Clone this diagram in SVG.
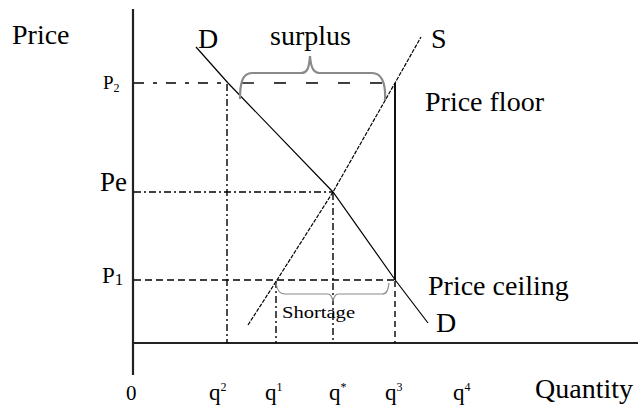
<svg xmlns="http://www.w3.org/2000/svg" width="638" height="406" viewBox="0 0 638 406">
<style>
text{font-family:"Liberation Serif","Times New Roman",serif;fill:#000}
.lbl{font-size:28px}
.axis{stroke:#222;stroke-width:2.2;fill:none}
.curve{stroke:#000;stroke-width:1.2;fill:none}
.s{stroke-dasharray:4 1.3}
.dd{stroke:#000;stroke-width:1.4;fill:none;stroke-dasharray:7 3 2 3}
.dash{stroke:#000;stroke-width:1.4;fill:none;stroke-dasharray:7 4}
.brace{stroke:#8a8a8a;fill:none}
</style>
<rect width="638" height="406" fill="#fff"/>
<g id="axes">
<line class="axis" x1="133" y1="9" x2="133" y2="375"/>
<line class="axis" x1="132" y1="343" x2="638" y2="343"/>
</g>
<g id="guides">
<path class="dash" d="M134,83 H228" style="stroke-dasharray:10 9 4 9"/>
<path class="dash" d="M242,83 H392" style="stroke-dasharray:12 20"/>
<path class="dd" d="M134,192 H333"/>
<path class="dash" d="M134,280 H395"/>
<path class="dd" d="M227,84 V343"/>
<path class="dd" d="M276,281 V343"/>
<path class="dd" d="M333,193 V343"/>
<line x1="395" y1="83" x2="395" y2="280" stroke="#111" stroke-width="2"/>
<path class="dash" d="M395,281 V343" style="stroke-dasharray:6 4"/>
</g>
<g id="curves">
<polyline id="D" class="curve" points="196,47 228,83 333,192 396,281 428,323"/>
<polyline id="S" class="curve s" points="248,325 277,280 333,192 395,83 421,37"/>
</g>
<g id="braces">
<path class="brace" stroke-width="2.2" d="M240,99 C240,84 242,73 252,73 L301,73 C307,73 309,69 310,56 C311,69 314,73 320,73 L372,73 C381,73 386,82 385,100"/>
<path class="brace" stroke-width="1.2" d="M276,283 C277,290 279,294 285,294 L328,294 C331,294 332,297 333,301 C334,297 335,294 338,294 L382,294 C387,294 388,290 389,283"/>
</g>
<g id="labels">
<text class="lbl" x="12" y="44">Price</text>
<text class="lbl" x="198" y="48">D</text>
<text class="lbl" x="270" y="45">surplus</text>
<text class="lbl" x="431" y="48">S</text>
<text class="lbl" x="425" y="111">Price floor</text>
<text class="lbl" x="428" y="295">Price ceiling</text>
<text class="lbl" x="436" y="332">D</text>
<text class="lbl" x="535" y="398">Quantity</text>
<text x="103" y="89" font-size="19">P<tspan font-size="12" dy="3">2</tspan></text>
<text x="100" y="191" font-size="27">Pe</text>
<text x="102" y="283" font-size="23">P<tspan font-size="17" dy="2">1</tspan></text>
<text x="282" y="318" font-size="16" textLength="73" lengthAdjust="spacingAndGlyphs">Shortage</text>
<text x="126" y="400" font-size="21">0</text>
<text x="209" y="400" font-size="23">q<tspan font-size="12" dy="-9">2</tspan></text>
<text x="265" y="400" font-size="23">q<tspan font-size="12" dy="-9">1</tspan></text>
<text x="329" y="400" font-size="23">q<tspan font-size="12" dy="-9">*</tspan></text>
<text x="385" y="400" font-size="23">q<tspan font-size="12" dy="-9">3</tspan></text>
<text x="453" y="400" font-size="23">q<tspan font-size="12" dy="-9">4</tspan></text>
</g>
</svg>
